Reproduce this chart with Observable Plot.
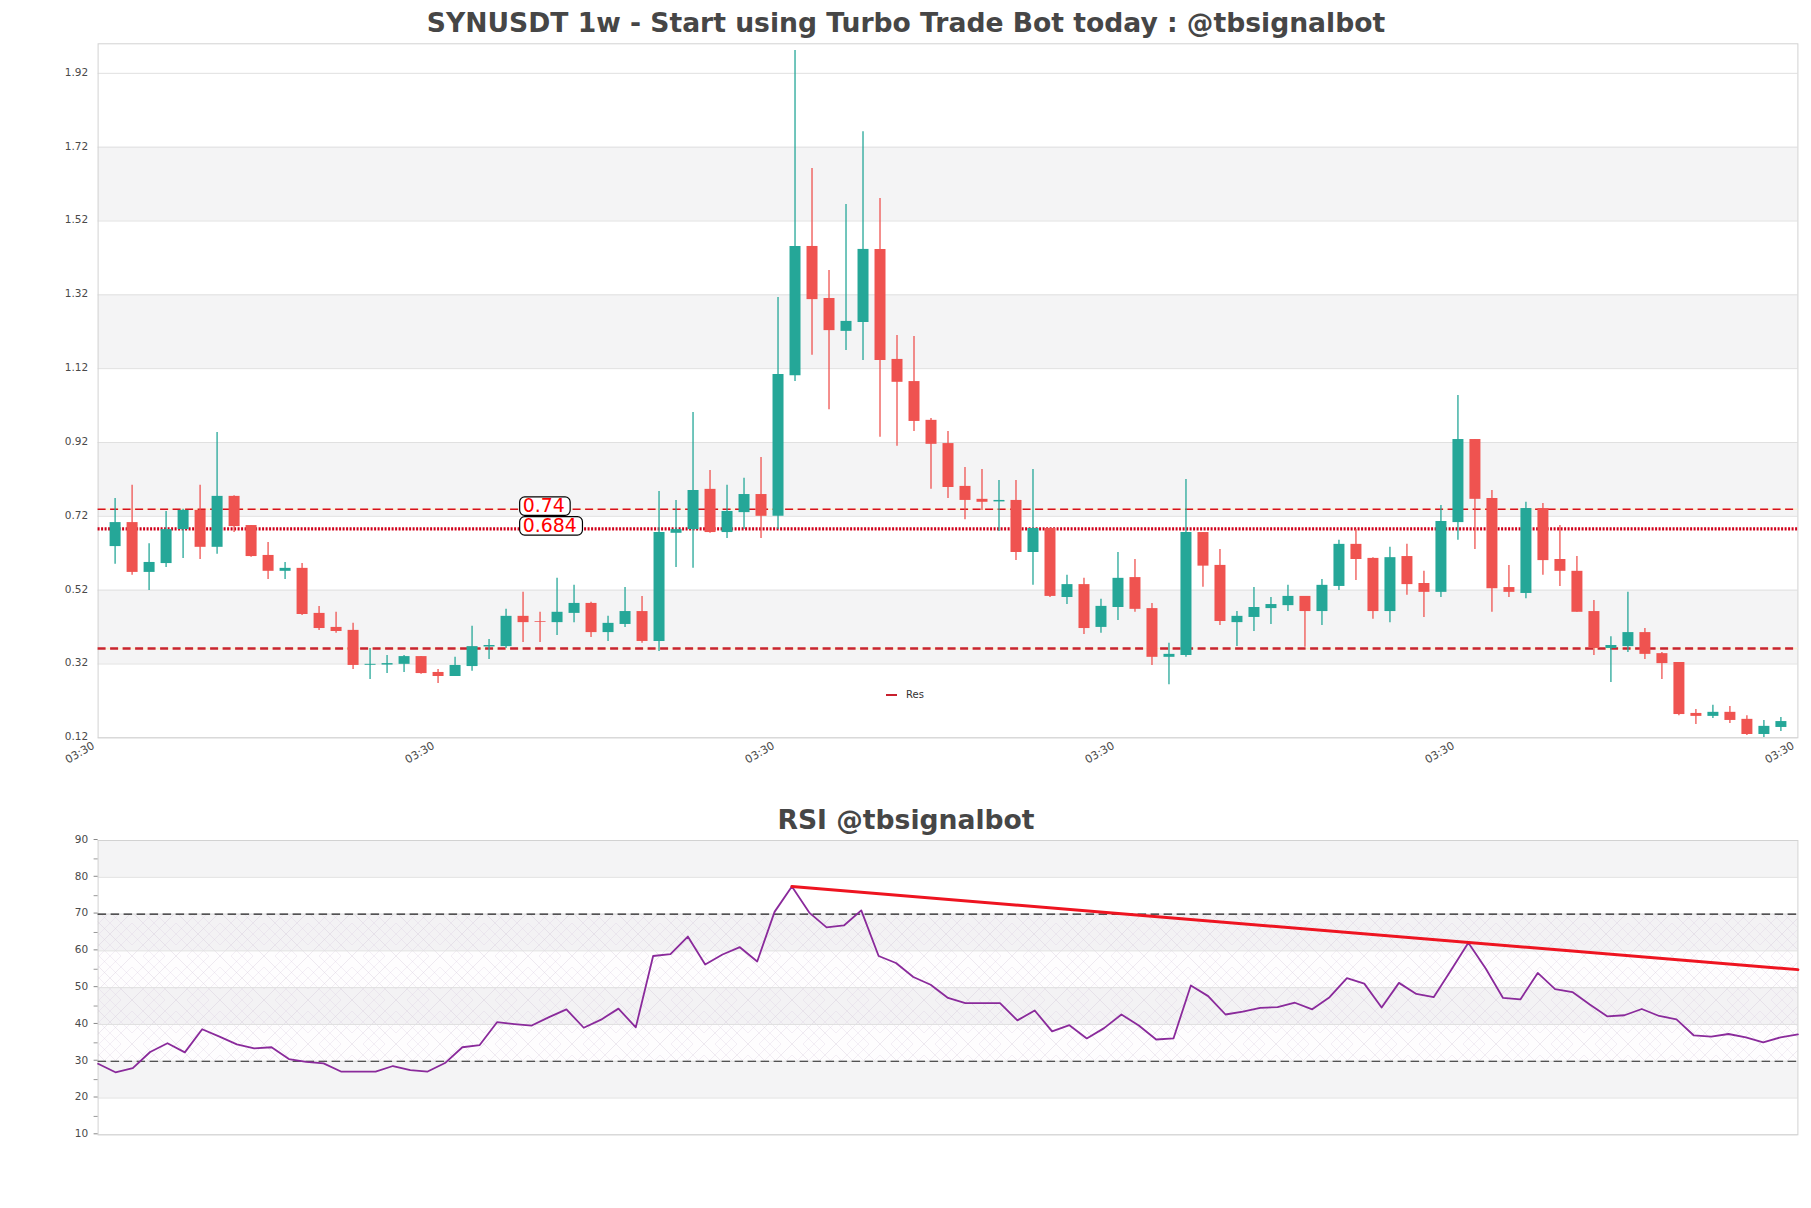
<!DOCTYPE html>
<html>
<head>
<meta charset="utf-8">
<script src="https://cdn.jsdelivr.net/npm/d3@7"></script>
<script src="https://cdn.jsdelivr.net/npm/@observablehq/plot@0.6"></script>
<style>
  html, body { margin: 0; padding: 0; background: #fff; }
  #page { position: relative; width: 1811px; height: 1208px; overflow: hidden; font-family: "DejaVu Sans", sans-serif; }
  #page svg { position: absolute; left: 0; background: transparent; }
  .title { position: absolute; left: 98px; width: 1616px; text-align: center; font-weight: bold; color: #464646; white-space: nowrap; z-index: 2; }
  #legend { position: absolute; left: 886px; top: 688px; font-size: 10px; color: #333; line-height: 14px; z-index: 2; }
  #legend i { display: inline-block; width: 11px; height: 2px; background: #c8202e; vertical-align: middle; margin-right: 9px; }
</style>
</head>
<body>
<div id="page">
  <div class="title" style="top:6px;font-size:26.6px;line-height:34px">SYNUSDT 1w - Start using Turbo Trade Bot today : @tbsignalbot</div>
  <div class="title" style="top:803px;font-size:26.6px;line-height:34px">RSI @tbsignalbot</div>
  <div id="legend"><i></i>Res</div>
</div>
<script>
const opens = [.638,.703,.568,.592,.684,.736,.636,.774,.695,.614,.571,.579,.457,.419,.411,.3165,.317,.319,.340,.297,.286,.313,.366,.367,.449,.435,.432,.457,.484,.405,.427,.462,.381,.674,.684,.793,.676,.730,.779,.720,1.101,1.451,1.310,1.221,1.245,1.443,1.145,1.085,.980,.917,.801,.766,.759,.763,.622,.687,.500,.535,.419,.473,.554,.470,.338,.343,.676,.587,.432,.446,.470,.478,.503,.462,.530,.644,.606,.462,.611,.538,.514,.703,.928,.768,.527,.511,.741,.603,.571,.462,.362,.367,.405,.348,.324,.186,.178,.189,.170,.129,.148];
const highs = [.768,.804,.646,.733,.739,.804,.947,.776,.695,.649,.595,.592,.476,.460,.430,.362,.343,.343,.340,.305,.338,.422,.386,.468,.514,.460,.552,.533,.487,.449,.527,.503,.787,.763,1.001,.844,.804,.823,.879,1.313,1.982,1.662,1.386,1.565,1.762,1.581,1.210,1.207,.985,.950,.852,.847,.817,.817,.847,.687,.560,.552,.495,.622,.603,.484,.376,.820,.676,.630,.462,.527,.500,.533,.503,.549,.655,.684,.608,.636,.644,.571,.749,1.047,.928,.790,.587,.758,.755,.695,.611,.492,.394,.514,.416,.351,.324,.197,.208,.205,.180,.167,.175];
const lows = [.590,.560,.519,.581,.606,.603,.617,.676,.609,.549,.549,.451,.411,.403,.305,.278,.294,.297,.292,.267,.286,.300,.332,.362,.378,.378,.397,.432,.392,.381,.419,.376,.354,.581,.579,.674,.660,.684,.660,.684,1.085,1.156,1.009,1.169,1.142,.934,.910,.950,.793,.768,.711,.736,.679,.600,.533,.500,.481,.400,.403,.438,.460,.316,.264,.338,.528,.424,.367,.408,.427,.462,.365,.424,.519,.546,.441,.432,.506,.446,.500,.655,.630,.460,.500,.497,.560,.530,.460,.343,.270,.351,.332,.278,.180,.156,.172,.159,.126,.121,.137];
const closes = [.703,.568,.595,.684,.736,.636,.774,.692,.611,.571,.579,.454,.416,.408,.316,.319,.321,.340,.294,.286,.316,.367,.370,.449,.432,.433,.460,.484,.405,.430,.462,.381,.676,.684,.790,.676,.733,.779,.720,1.104,1.451,1.307,1.223,1.248,1.443,1.142,1.083,.977,.915,.798,.763,.758,.763,.622,.687,.503,.535,.416,.476,.552,.468,.338,.346,.676,.585,.435,.449,.473,.481,.503,.462,.533,.644,.603,.462,.608,.535,.514,.706,.928,.766,.524,.514,.741,.600,.571,.460,.362,.370,.405,.346,.321,.183,.178,.189,.167,.129,.151,.164];
const candleIndex = opens.map((_, i) => i + 1);

const priceTicks = [1.92, 1.72, 1.52, 1.32, 1.12, 0.92, 0.72, 0.52, 0.32, 0.12];
const priceBandsLow = [0.32, 0.72, 1.12, 1.52];
const priceBandsHigh = [0.52, 0.92, 1.32, 1.72];
const xTickIndex = [0, 20, 40, 60, 80, 100];
const xTickLabels = ["03:30", "03:30", "03:30", "03:30", "03:30", "03:30"];

const levelValues = [0.7394, 0.686, 0.362];
const labelIndex = 24.83;
const labelTexts = ["0.74", "0.684"];

const rsiValues = [29.3,27.0,28.1,32.5,34.9,32.4,38.7,36.7,34.6,33.5,33.8,30.6,29.8,29.4,27.2,27.2,27.2,28.7,27.6,27.2,29.5,33.8,34.4,40.6,40.1,39.7,42.0,44.1,39.1,41.3,44.3,39.2,58.6,59.1,63.9,56.3,59.0,61.0,57.1,70.6,77.5,70.4,66.4,66.9,71.0,58.6,56.7,52.9,50.8,47.2,45.8,45.8,45.8,41.1,43.8,38.1,39.8,36.2,39.0,42.7,39.7,35.9,36.2,50.6,47.7,42.7,43.5,44.5,44.7,45.9,44.1,47.4,52.6,51.1,44.6,51.3,48.3,47.4,54.7,62.2,55.2,47.2,46.8,54.0,49.6,48.8,45.4,42.2,42.5,44.2,42.3,41.4,37.0,36.7,37.4,36.5,35.1,36.5,37.3];
const rsiTicks = [10, 20, 30, 40, 50, 60, 70, 80, 90];
const rsiMinorTicks = [15, 25, 35, 45, 55, 65, 75, 85];
const rsiBandsLow = [20, 40, 60, 80];
const rsiBandsHigh = [30, 50, 70, 90];
const rsiLimits = [30, 70];
const trendIndex = [40, 98];
const trendValues = [77.5, 54.9];

const UP = "#25a798", DOWN = "#ef5350", BAND = "#f4f4f5", GRID = "#e0e0e0", AXIS = "#d2d2d2", TEXT = "#4a4a4a";

const candles = candleIndex.map((i, k) => ({i, open: opens[k], high: highs[k], low: lows[k], close: closes[k]}));
const tone = d => d.close >= d.open ? UP : DOWN;
const bands = (lo, hi) => lo.map((y1, k) => ({y1, y2: hi[k]}));
const style = {fontFamily: "DejaVu Sans, sans-serif", fontSize: "10px", background: "transparent", overflow: "visible"};

const page = document.getElementById("page");

const main = Plot.plot({
  width: 1811, height: 780, marginLeft: 97.6, marginRight: 13.6, marginTop: 43.3, marginBottom: 42.7, style,
  x: {type: "linear", domain: [0, 100], axis: null},
  y: {type: "linear", domain: [0.12, 2.0], axis: null},
  marks: [
    Plot.rect(bands(priceBandsLow, priceBandsHigh), {y1: "y1", y2: "y2", fill: BAND}),
    Plot.ruleY(priceTicks, {stroke: GRID}),
    Plot.frame({stroke: AXIS}),
    Plot.axisY({ticks: priceTicks, tickSize: 0, tickPadding: 10, tickFormat: d => d.toFixed(2), label: null, fill: TEXT, stroke: "none", dy: -1, fontSize: 10.5}),
    Plot.ruleY([levelValues[0], levelValues[2]], {stroke: "#fdf0d2", strokeWidth: 1.5}),
    Plot.ruleY([levelValues[0]], {stroke: "#d8101c", strokeWidth: 1.5, strokeDasharray: "8,4.5"}),
    Plot.ruleY([levelValues[1]], {stroke: "#d0001a", strokeWidth: 3.2, strokeDasharray: "2,1.5"}),
    Plot.ruleY([levelValues[2]], {stroke: "#c9252f", strokeWidth: 2.6, strokeDasharray: "8,4.5"}),
    Plot.ruleX(candles, {x: "i", y1: "low", y2: "high", stroke: tone, strokeWidth: 1.3}),
    Plot.ruleX(candles, {x: "i", y1: "open", y2: "close", stroke: tone, strokeWidth: 11}),
    Plot.rect([{i: labelIndex, v: levelValues[0]}], {x1: "i", x2: "i", y1: "v", y2: "v", insetRight: -50.5, insetTop: -11.7, insetBottom: -6.7, rx: 5, fill: "#fff", stroke: "#000", strokeWidth: 1.2}),
    Plot.rect([{i: labelIndex, v: levelValues[1]}], {x1: "i", x2: "i", y1: "v", y2: "v", insetRight: -62.8, insetTop: -11.7, insetBottom: -6.7, rx: 5, fill: "#fff", stroke: "#000", strokeWidth: 1.2}),
    Plot.text(labelTexts.map((t, k) => ({t, i: labelIndex, v: levelValues[k]})), {x: "i", y: "v", text: "t", textAnchor: "start", lineAnchor: "middle", dx: 2.5, dy: -3, fontSize: 18.9, fill: "#f00"}),
    Plot.text(xTickIndex.map((i, k) => ({i, t: xTickLabels[k]})), {x: "i", frameAnchor: "bottom", text: "t", rotate: -30, textAnchor: "end", lineAnchor: "middle", dx: -4.5, dy: 7, fontSize: 11, fill: TEXT})
  ]
});
main.style.top = "0px";
page.appendChild(main);

const rsi = Plot.plot({
  width: 1811, height: 400, marginLeft: 97.6, marginRight: 13.6, marginTop: 60, marginBottom: 45.7, style,
  x: {type: "linear", domain: [0, 98], axis: null},
  y: {type: "linear", domain: [10, 90], axis: null},
  marks: [
    Plot.rect(bands(rsiBandsLow, rsiBandsHigh), {y1: "y1", y2: "y2", fill: BAND}),
    Plot.rect([{y1: rsiLimits[0], y2: rsiLimits[1]}], {y1: "y1", y2: "y2", fill: "url(#rsiHatch)"}),
    Plot.ruleY(rsiTicks, {stroke: GRID}),
    Plot.frame({stroke: AXIS}),
    Plot.axisY({ticks: rsiTicks, tickSize: 4, tickPadding: 6, label: null, fill: TEXT, stroke: "#888", dy: -1, fontSize: 10.5}),
    Plot.axisY({ticks: rsiMinorTicks, tickSize: 4, tickFormat: () => "", label: null, stroke: "#999"}),
    Plot.ruleY(rsiLimits, {stroke: "#222", strokeWidth: 1.2, strokeDasharray: "8.5,4.5"}),
    Plot.line(rsiValues.map((v, k) => ({k, v})), {x: "k", y: "v", stroke: "#8a2a9b", strokeWidth: 1.8}),
    Plot.line(trendIndex.map((k, n) => ({k, v: trendValues[n]})), {x: "k", y: "v", stroke: "#ee1420", strokeWidth: 3})
  ]
});
rsi.style.top = "780px";
page.appendChild(rsi);

// Lattice used by the 30-70 RSI area
const defs = d3.select(rsi).insert("defs", ":first-child");
const pat = defs.append("pattern").attr("id", "rsiHatch").attr("patternUnits", "userSpaceOnUse").attr("width", 44).attr("height", 44);
pat.append("path").attr("d", "M0 0L44 44M44 0L0 44M-22 22L22 -22M22 66L66 22M-22 22L22 66M22 -22L66 22").attr("stroke", "#c4b8ce").attr("stroke-opacity", .4).attr("stroke-width", .7).attr("fill", "none");
pat.append("path").attr("d", "M22 0L44 22M0 22L22 44M22 0L0 22M44 22L22 44M11 0L44 33M0 11L33 44M33 0L0 33M44 11L11 44").attr("stroke", "#d6c8de").attr("stroke-opacity", .4).attr("stroke-width", .7).attr("fill", "none");
pat.append("rect").attr("width", 44).attr("height", 44).attr("fill", "#b090c0").attr("fill-opacity", .015);
</script>
</body>
</html>
